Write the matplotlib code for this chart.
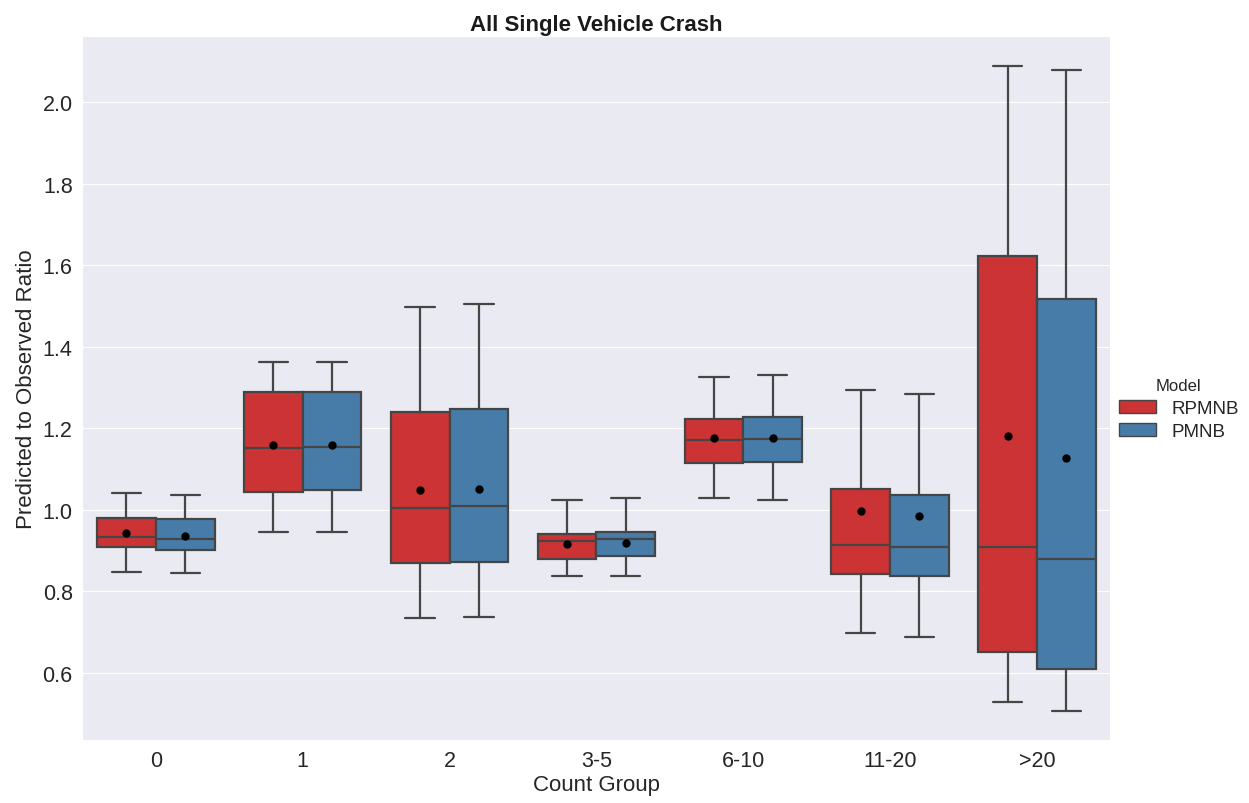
import numpy as np
import matplotlib
matplotlib.use('Agg')
import matplotlib.pyplot as plt
import seaborn as sns
from matplotlib.patches import Patch

# Box statistics
groups = ['0', '1', '2', '3-5', '6-10', '11-20', '>20']
models = ['RPMNB', 'PMNB']

rpmnb_whislo = [0.847, 0.946, 0.733, 0.837, 1.028, 0.697, 0.527]
rpmnb_q1 = [0.908, 1.044, 0.868, 0.880, 1.115, 0.843, 0.651]
rpmnb_med = [0.932, 1.151, 1.005, 0.923, 1.171, 0.913, 0.909]
rpmnb_mean = [0.942, 1.158, 1.048, 0.915, 1.175, 0.996, 1.181]
rpmnb_q3 = [0.980, 1.288, 1.241, 0.941, 1.222, 1.051, 1.622]
rpmnb_whishi = [1.041, 1.363, 1.497, 1.025, 1.325, 1.295, 2.089]

pmnb_whislo = [0.844, 0.946, 0.737, 0.837, 1.024, 0.687, 0.507]
pmnb_q1 = [0.902, 1.049, 0.872, 0.886, 1.118, 0.837, 0.609]
pmnb_med = [0.927, 1.153, 1.008, 0.927, 1.173, 0.908, 0.878]
pmnb_mean = [0.936, 1.158, 1.052, 0.918, 1.177, 0.984, 1.127]
pmnb_q3 = [0.978, 1.288, 1.247, 0.946, 1.227, 1.035, 1.517]
pmnb_whishi = [1.035, 1.363, 1.504, 1.028, 1.331, 1.284, 2.080]


def make_stats(whislo, q1, med, mean, q3, whishi):
    return [dict(whislo=a, q1=b, med=c, mean=d, q3=e, whishi=f, fliers=[])
            for a, b, c, d, e, f in zip(whislo, q1, med, mean, q3, whishi)]


stats = {
    'RPMNB': make_stats(rpmnb_whislo, rpmnb_q1, rpmnb_med, rpmnb_mean, rpmnb_q3, rpmnb_whishi),
    'PMNB': make_stats(pmnb_whislo, pmnb_q1, pmnb_med, pmnb_mean, pmnb_q3, pmnb_whishi),
}

sns.set_style('darkgrid')
plt.rcParams['font.family'] = ['Liberation Sans', 'DejaVu Sans']

fig, ax = plt.subplots(figsize=(12.49, 8.04), dpi=100)
fig.subplots_adjust(left=0.066, right=0.889, bottom=0.078, top=0.954)

palette = [sns.desaturate(c, 0.75) for c in sns.color_palette('Set1', 2)]
line_color = '#454545'
width = 0.4
offsets = [-0.2, 0.2]
x = np.arange(len(groups))

for model, color, off in zip(models, palette, offsets):
    ax.bxp(stats[model], positions=x + off, widths=width, patch_artist=True,
           showmeans=True, showfliers=False, manage_ticks=False,
           boxprops=dict(facecolor=color, edgecolor=line_color, linewidth=1.6),
           medianprops=dict(color=line_color, linewidth=1.6),
           whiskerprops=dict(color=line_color, linewidth=1.6),
           capprops=dict(color=line_color, linewidth=1.6),
           meanprops=dict(marker='o', markerfacecolor='black',
                          markeredgecolor='black', markersize=5))

ax.set_xlim(-0.5, len(groups) - 0.5)
ax.set_ylim(0.434, 2.163)
ax.set_xticks(x)
ax.set_xticklabels(groups)
ax.set_yticks(np.arange(0.6, 2.01, 0.2))
ax.set_yticklabels(['%.1f' % v for v in np.arange(0.6, 2.01, 0.2)])
ax.tick_params(labelsize=15.5, colors='.15')
ax.xaxis.grid(False)

ax.set_xlabel('Count Group', fontsize=16, color='.15', labelpad=2)
ax.set_ylabel('Predicted to Observed Ratio', fontsize=16, color='.15')
ax.set_title('All Single Vehicle Crash', fontsize=16, fontweight='bold', color='.1', pad=4)

handles = [Patch(facecolor=c, edgecolor=line_color) for c in palette]
leg = ax.legend(handles, models, title='Model', loc='center left',
                bbox_to_anchor=(1.0, 0.47), frameon=False, fontsize=13.5,
                title_fontsize=12, borderaxespad=0.05, labelspacing=0.35)

plt.savefig('out.png', dpi=100)
